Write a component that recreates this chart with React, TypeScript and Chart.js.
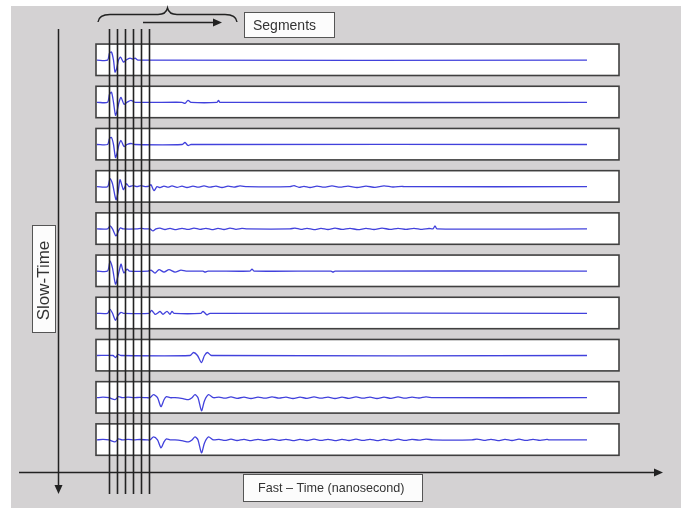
import React, { useEffect, useRef } from 'react';
import { Chart, registerables } from 'chart.js';

Chart.register(...registerables);

// Fast-time axis (0..100 ns-ish units) and slow-time rows (scan 1 at top)
const FAST_TIME_MIN = 0;
const FAST_TIME_MAX = 100;
const SLOW_TIME_ROWS = ['Scan 1', 'Scan 2', 'Scan 3', 'Scan 4', 'Scan 5', 'Scan 6', 'Scan 7', 'Scan 8', 'Scan 9', 'Scan 10'];
// Segment boundaries along fast time
const SEGMENT_BOUNDARIES = [2.3, 3.9, 5.5, 7.1, 8.7, 10.3];
// Amplitude units per slow-time row
const AMP_PER_ROW = 42.2;

// Each scan: [fast time, amplitude] pairs
const SCAN_1 = [[0, 0], [2.1, 0], [2.5, 7], [2.9, 8], [3.3, 0], [3.6, -12], [3.9, -9], [4.3, 0], [4.7, 3], [5.3, -2], [5.8, 0], [6.6, 2], [7.2, 1], [7.6, 2], [8.2, 0], [98, 0]];
const SCAN_2 = [[0, 0], [2.1, 0], [2.5, 8], [2.9, 10], [3.3, 0], [3.7, -13], [4.0, -9], [4.4, 0], [4.8, 5], [5.4, -2], [6, 0], [6.8, 2], [7.6, 0], [17, 0], [17.6, -1], [18.2, 2], [18.8, 0], [24, 0], [24.3, 2], [24.6, 0], [98, 0]];
const SCAN_3 = [[0, 0], [2.1, 0], [2.5, 6], [2.9, 7], [3.3, 0], [3.7, -13], [4.0, -9], [4.4, 0], [4.8, 4], [5.4, -2], [6, 0], [6.8, 1], [7.6, 0], [17, 0], [17.6, 2], [18.2, -1], [18.8, 0], [98, 0]];
const SCAN_4 = [[0, 0], [2.1, 0], [2.6, 8], [3.1, 3], [3.8, -13], [4.2, -6], [4.6, 7], [5.0, 1], [5.3, -3], [5.9, 3], [6.4, 0], [7.2, 1], [8, 0], [8.8, 1], [9.6, 0], [10.4, 0.5], [10.8, 2], [11.4, -4], [12, 0], [12.6, -1], [13.4, 0.6], [14.2, -0.5], [15, 0.8], [16, -0.6], [17, 0.5], [18, -0.8], [19.2, 0.6], [20.2, -0.5], [21.4, 0.8], [22.6, -0.4], [23.8, 0.6], [25, -0.8], [26.2, 0.5], [27.4, -0.4], [28.6, 0.8], [30, 0], [38.6, 0], [39.4, 1], [40.4, -0.6], [41.4, 0.4], [42.6, -0.8], [44, 0.6], [45.4, -0.5], [47, 0.8], [48.6, -0.5], [50.2, 0.6], [52, -0.8], [53.8, 0.5], [55.6, -0.6], [57.4, 0.8], [59.2, -0.3], [61, 0.4], [61.4, 0], [98, 0]];
const SCAN_5 = [[0, 0], [2.1, 0], [2.6, 3], [3.1, 0], [3.8, -7], [4.3, -2], [4.7, 1], [5.2, 0], [8, 0], [8.8, 0.6], [9.6, 0], [10.6, 0], [11.2, -2], [11.8, 0], [12.6, 0.8], [13.6, -0.6], [14.6, 0.5], [15.8, -0.8], [17, 0.6], [18.2, -0.5], [19.4, 0.8], [20.6, -0.4], [21.8, 0.6], [23, -0.8], [24.2, 0.5], [25.4, -0.6], [26.6, 0.8], [27.8, -0.4], [29, 0.5], [30, 0], [38.6, 0], [39.6, 0.8], [40.8, -0.5], [42, 0.6], [43.4, -0.8], [44.8, 0.5], [46.2, -0.6], [47.6, 0.8], [49, -0.5], [50.6, 0.6], [52.2, -0.8], [53.8, 0.5], [55.4, -0.6], [57, 0.8], [58.6, -0.5], [60.2, 0.6], [61.8, -0.4], [63.4, 0.6], [65, -0.5], [66.4, 0.4], [67.2, 0], [67.6, 3], [68, 0], [98, 0]];
const SCAN_6 = [[0, 0], [2.1, 0], [2.6, 10], [3.1, 3], [3.7, -13], [4.2, -5], [4.8, 7], [5.1, 2], [5.4, -2], [6, 2], [6.5, 0], [10.2, 0], [10.8, 1], [11.6, -2], [12.4, 1.5], [13.4, -1], [14.4, 1.5], [15.6, -1], [16.8, 1], [17.8, 0], [21.2, 0], [21.6, -1], [22.2, 0], [30.6, 0], [31, 2], [31.4, 0], [46.8, 0], [47.2, -1], [47.6, 0], [98, 0]];
const SCAN_7 = [[0, 0], [2.1, 0], [2.6, 4], [3.1, 0], [3.7, -7], [4.2, -2], [4.8, 1], [5.3, 0], [10.4, 0], [10.9, 3], [11.6, -1], [12.2, 0.5], [12.6, 2], [13.2, -1], [14, 2], [14.6, -1], [15, 2], [15.4, 0], [20.8, 0], [21.2, 2], [22, -1.5], [22.6, 0], [98, 0]];
const SCAN_8 = [[0, 0], [3.2, 0], [3.7, -2], [4.2, 1], [4.8, 0], [18.6, 0], [19.3, 3], [20.1, 0], [20.9, -7], [21.5, 0], [22.1, 3], [22.9, 0], [98, 0]];
const SCAN_9 = [[0, 0], [1.2, 0.5], [2.4, 0], [3.6, -2], [4.3, 1], [5, 0], [6.2, 0.5], [7.4, 0], [8.6, 0.4], [10, 0], [10.6, 0], [11.3, 3], [12.1, 0], [12.8, -9], [13.4, -2], [13.9, 1], [14.6, 0], [15.6, 0], [17.2, -1], [18.3, -2], [19, 0], [19.6, 3], [20.2, 0], [20.9, -13], [21.5, -3], [22.3, 3], [23.3, 0], [24.4, 0.6], [25.6, -0.5], [26.8, 0.8], [28, -0.6], [29.4, 0.5], [30.8, -0.8], [32.2, 0.6], [33.6, -0.5], [35, 0.8], [36.4, -0.4], [37.8, 0.6], [39.2, -0.8], [40.6, 0.5], [42, -0.6], [43.4, 0.8], [44.8, -0.5], [46.2, 0.6], [47.6, -0.8], [49, 0.5], [50.4, -0.6], [51.8, 0.8], [53.2, -0.5], [54.6, 0.6], [56, -0.8], [57.4, 0.5], [58.8, -0.6], [60.2, 0.8], [61.6, -0.5], [63, 0.6], [64.4, -0.3], [65.8, 0.8], [67.2, 0], [98, 0]];
const SCAN_10 = [[0, 0], [1.2, 0.5], [2.4, 0], [3.6, -2], [4.3, 1], [5, 0], [6.2, 0.5], [7.4, 0], [8.6, 0.4], [10, 0], [10.6, 0], [11.3, 3], [12.1, 0], [12.8, -8], [13.4, -2], [13.9, 1], [14.6, 0], [15.6, 0], [17.2, -1], [18.3, -2], [19, 0], [19.6, 3], [20.2, 0], [20.9, -13], [21.5, -3], [22.3, 3], [23.3, 0], [24.4, 0.6], [25.6, -0.5], [26.8, 0.8], [28, -0.6], [29.4, 0.5], [30.8, -0.8], [32.2, 0.6], [33.6, -0.5], [35, 0.8], [36.4, -0.4], [37.8, 0.6], [39.2, -0.8], [40.6, 0.5], [42, -0.6], [43.4, 0.8], [44.8, -0.5], [46.2, 0.6], [47.6, -0.8], [49, 0.5], [50.4, -0.6], [51.8, 0.8], [53.2, -0.5], [54.6, 0.6], [56, -0.8], [57.4, 0.5], [58.8, -0.6], [60.2, 0.8], [61.6, -0.5], [63, 0.6], [64.4, -0.3], [65.8, 0.8], [67.2, 0], [75, 0], [76, 0.8], [77.4, -0.5], [78.8, 0.6], [80.2, -0.8], [81.6, 0.5], [83, -0.6], [84.4, 0.8], [85.8, -0.5], [87.2, 0.6], [88.6, -0.4], [90, 0.5], [90.4, 0], [98, 0]];

const SCANS = [SCAN_1, SCAN_2, SCAN_3, SCAN_4, SCAN_5, SCAN_6, SCAN_7, SCAN_8, SCAN_9, SCAN_10];

const LABEL_SEGMENTS = 'Segments';
const LABEL_SLOW = 'Slow-Time';
const LABEL_FAST = 'Fast \u2013 Time (nanosecond)';

const BG = '#d4d2d3';
const WAVE = '#4141dc';
const INK = '#222222';
const FONT = '"Liberation Sans", Arial, sans-serif';

export default function App() {
  const ref = useRef<HTMLCanvasElement>(null);

  useEffect(() => {
    document.body.style.margin = '0';
    const canvas = ref.current;
    if (!canvas) return;

    const decor = {
      id: 'decor',
      beforeDraw(chart: any) {
        const ctx = chart.ctx;
        ctx.save();
        ctx.fillStyle = '#ffffff';
        ctx.fillRect(0, 0, chart.width, chart.height);
        ctx.fillStyle = BG;
        ctx.fillRect(11, 6, 670, 502);
        ctx.restore();
      },
      beforeDatasetsDraw(chart: any) {
        const ctx = chart.ctx;
        const y = chart.scales.y;
        ctx.save();
        SLOW_TIME_ROWS.forEach((_, i) => {
          const top = y.getPixelForValue(i - 0.38);
          const bot = y.getPixelForValue(i + 0.365);
          ctx.fillStyle = '#ffffff';
          ctx.fillRect(96, top, 523, bot - top);
          ctx.strokeStyle = '#404040';
          ctx.lineWidth = 1.6;
          ctx.strokeRect(96, top, 523, bot - top);
        });
        ctx.restore();
      },
      afterDatasetsDraw(chart: any) {
        const ctx = chart.ctx;
        const x = chart.scales.x;
        ctx.save();
        ctx.strokeStyle = INK;
        ctx.lineWidth = 1.6;
        SEGMENT_BOUNDARIES.forEach((b) => {
          const px = Math.round(x.getPixelForValue(b)) + 0.5;
          ctx.beginPath();
          ctx.moveTo(px, 29);
          ctx.lineTo(px, 494);
          ctx.stroke();
        });
        ctx.restore();
      },
      afterDraw(chart: any) {
        const ctx = chart.ctx;
        ctx.save();
        ctx.strokeStyle = INK;
        ctx.fillStyle = INK;
        ctx.lineWidth = 1.5;

        // slow-time axis (down arrow)
        ctx.beginPath();
        ctx.moveTo(58.5, 29);
        ctx.lineTo(58.5, 487);
        ctx.stroke();
        ctx.beginPath();
        ctx.moveTo(54.5, 485);
        ctx.lineTo(62.5, 485);
        ctx.lineTo(58.5, 494);
        ctx.closePath();
        ctx.fill();

        // fast-time axis (right arrow)
        ctx.beginPath();
        ctx.moveTo(19, 472.5);
        ctx.lineTo(656, 472.5);
        ctx.stroke();
        ctx.beginPath();
        ctx.moveTo(654, 468.5);
        ctx.lineTo(654, 476.5);
        ctx.lineTo(663, 472.5);
        ctx.closePath();
        ctx.fill();

        // brace
        ctx.lineWidth = 1.4;
        ctx.beginPath();
        ctx.moveTo(98, 22);
        ctx.quadraticCurveTo(99, 14.5, 110, 14.5);
        ctx.lineTo(158, 14.5);
        ctx.quadraticCurveTo(166, 14.5, 167.5, 8);
        ctx.quadraticCurveTo(169, 14.5, 177, 14.5);
        ctx.lineTo(225, 14.5);
        ctx.quadraticCurveTo(236, 14.5, 237, 22);
        ctx.stroke();

        // segment arrow
        ctx.beginPath();
        ctx.moveTo(143, 22.5);
        ctx.lineTo(215, 22.5);
        ctx.stroke();
        ctx.beginPath();
        ctx.moveTo(213, 18.5);
        ctx.lineTo(213, 26.5);
        ctx.lineTo(222, 22.5);
        ctx.closePath();
        ctx.fill();

        // label boxes
        const box = (x0: number, y0: number, w: number, h: number) => {
          ctx.fillStyle = '#fcfcfc';
          ctx.fillRect(x0, y0, w, h);
          ctx.strokeStyle = '#555555';
          ctx.lineWidth = 1;
          ctx.strokeRect(x0 + 0.5, y0 + 0.5, w, h);
        };
        box(244, 12, 90, 25);
        box(32, 225, 23, 107);
        box(243, 474, 179, 27);

        ctx.fillStyle = '#333333';
        ctx.textAlign = 'left';
        ctx.textBaseline = 'alphabetic';
        ctx.font = `14px ${FONT}`;
        ctx.fillText(LABEL_SEGMENTS, 253, 29.5);
        ctx.font = `12.6px ${FONT}`;
        ctx.fillText(LABEL_FAST, 258, 492);

        ctx.save();
        ctx.translate(49, 280.5);
        ctx.rotate(-Math.PI / 2);
        ctx.textAlign = 'center';
        ctx.font = `17px ${FONT}`;
        ctx.fillText(LABEL_SLOW, 0, 0);
        ctx.restore();

        ctx.restore();
      },
    };

    const chart = new Chart(canvas, {
      type: 'line',
      data: {
        datasets: SCANS.map((scan, i) => ({
          label: SLOW_TIME_ROWS[i],
          data: scan.map(([t, a]) => ({ x: t, y: i - a / AMP_PER_ROW })),
          borderColor: WAVE,
          borderWidth: 1.3,
          pointRadius: 0,
          tension: 0.25,
          fill: false,
          clip: false as any,
        })),
      },
      options: {
        responsive: false,
        animation: false,
        devicePixelRatio: 1,
        layout: { padding: { left: 97, right: 91, top: 39, bottom: 47 } },
        plugins: { legend: { display: false }, tooltip: { enabled: false } },
        scales: {
          x: { type: 'linear', min: FAST_TIME_MIN, max: FAST_TIME_MAX, display: false },
          y: { type: 'linear', min: -0.5, max: SLOW_TIME_ROWS.length - 0.5, reverse: true, display: false },
        },
      },
      plugins: [decor],
    });

    return () => chart.destroy();
  }, []);

  return <canvas ref={ref} width={688} height={508} style={{ display: 'block', width: 688, height: 508 }} />;
}
